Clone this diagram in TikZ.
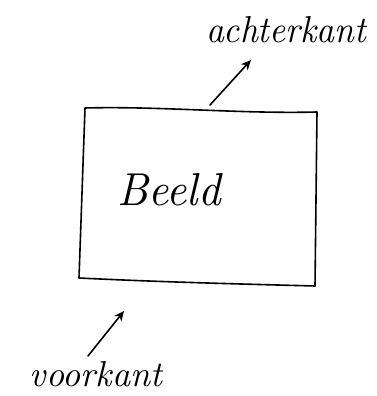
\documentclass[tikz,border=0pt]{standalone}
\usepackage{fontspec}
\usetikzlibrary{arrows.meta}
\begin{document}
\begin{tikzpicture}[x=1pt,y=1pt,
  ink/.style={line width=1.6pt, line join=round, line cap=round},
  pointer/.style={ink, -{Stealth[length=10pt,width=9pt,open]}},
  hand/.style={inner sep=0pt}]
\useasboundingbox (0,0) rectangle (377,396);
\fill[white] (0,0) rectangle (377,396);
% rectangle corners
\coordinate (tl) at (85,288);
\coordinate (tr) at (317,284);
\coordinate (br) at (315,110);
\coordinate (bl) at (79,118);
\draw[ink] (tl) .. controls (160,290) and (240,282) .. (tr) -- (br) .. controls (240,112) and (160,114) .. (bl) -- cycle;
\node[hand] (beeld) at (169,206) {\resizebox{103pt}{32pt}{\itshape Beeld}};
\node[hand] (achter) at (286,366) {\resizebox{160pt}{26pt}{\itshape achterkant}};
\node[hand] (voor) at (96,22) {\resizebox{132pt}{25pt}{\itshape voorkant}};
\coordinate (a1) at (210,291);
\coordinate (a2) at (251,336);
\coordinate (v1) at (88,40);
\coordinate (v2) at (124,85);
\draw[pointer] (a1) -- (a2);
\draw[pointer] (v1) -- (v2);
\end{tikzpicture}
\end{document}
